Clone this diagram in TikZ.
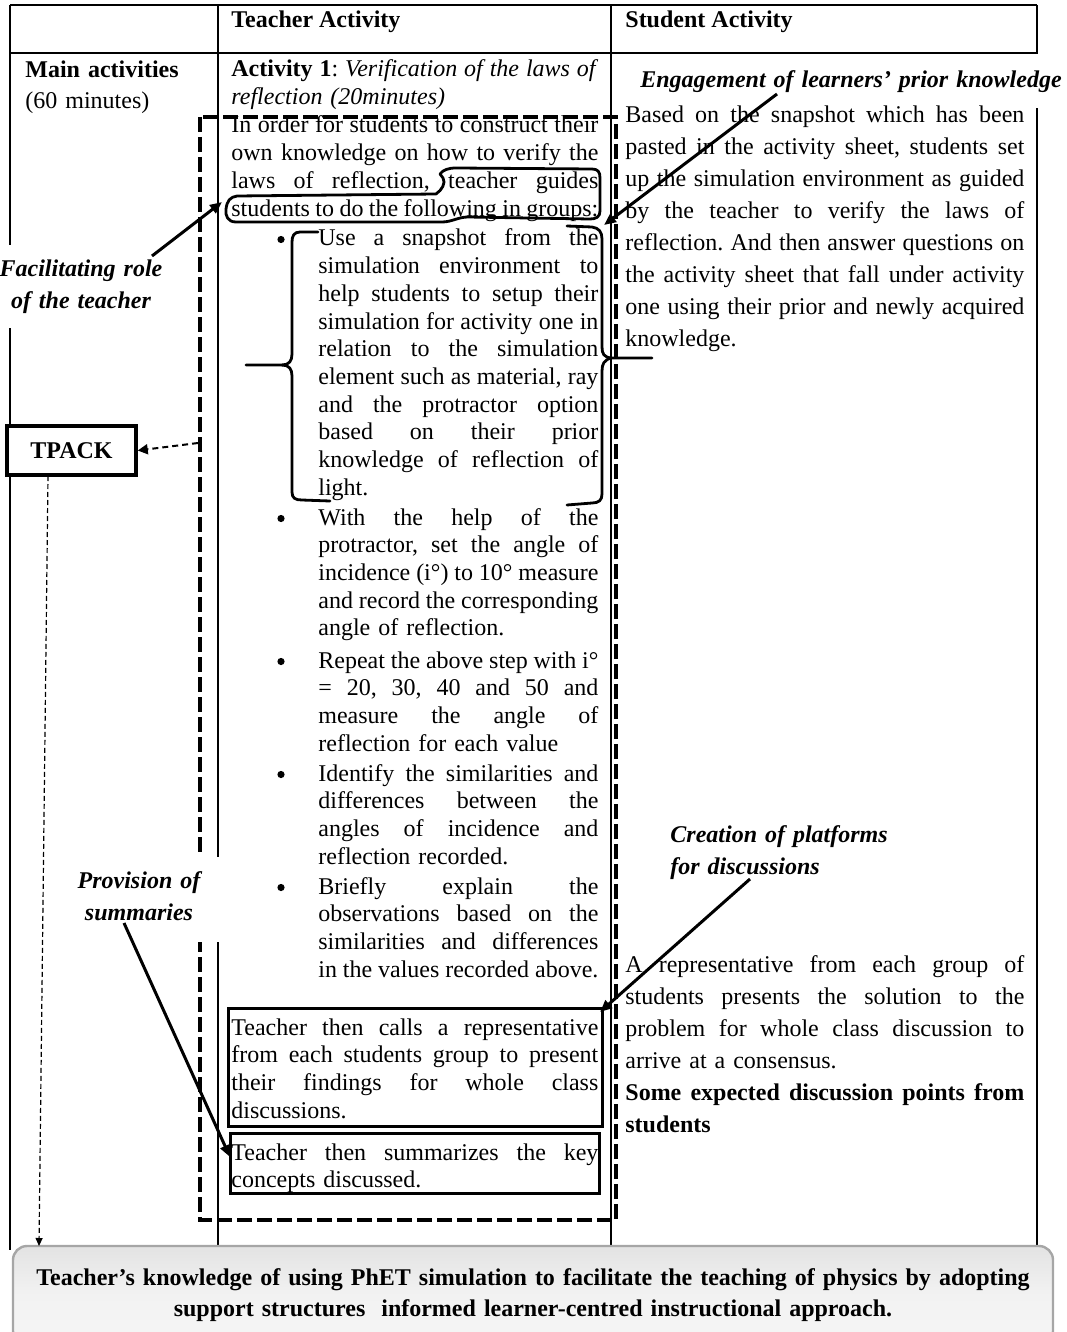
\documentclass[tikz,border=0pt]{standalone}
\usepackage{fontspec}
\setmainfont{Liberation Serif}
\usetikzlibrary{arrows.meta}
\setlength{\parindent}{0pt}
\frenchspacing
\newcommand{\jl}[1]{\makebox[183.5pt][s]{\spaceskip=0pt\relax\xspaceskip=0pt\relax #1}}
\newcommand{\jb}[1]{\makebox[140pt][s]{\spaceskip=0pt\relax\xspaceskip=0pt\relax #1}}
\newcommand{\js}[1]{\makebox[199.5pt][s]{\spaceskip=0pt\relax\xspaceskip=0pt\relax #1}}
\begin{document}
\begin{tikzpicture}[x=0.5pt,y=-0.5pt,
  tline/.style={line width=0.6pt},
  txt/.style={inner sep=0pt, anchor=base west, align=left, font=\fontsize{12}{13.85}\selectfont},
  stxt/.style={inner sep=0pt, anchor=base west, align=left, text width=199.5pt, font=\fontsize{12}{16}\selectfont},
  bul/.style={circle, fill, inner sep=0pt, minimum size=3.6pt},
  lab/.style={inner sep=0pt, anchor=base, align=center, font=\fontsize{12}{16}\selectfont\bfseries\itshape},
  dashbox/.style={line width=2pt, dash pattern=on 7.5pt off 2.5pt},
  hand/.style={line width=1.4pt, line cap=round, line join=round},
  arr/.style={line width=1.5pt, -{Triangle[length=6pt,width=5pt]}},
  darr/.style={line width=1pt, dash pattern=on 3pt off 2pt, -{Triangle[length=5pt,width=5pt]}},
  vdarr/.style={line width=0.6pt, dash pattern=on 2.5pt off 1.5pt, -{Triangle[length=4pt,width=3.5pt]}},
  tbox/.style={draw, line width=1.5pt, inner sep=0pt},
]
\useasboundingbox (0,0) rectangle (1066,1332);

% table rules
\draw[tline] (10,5) -- (1037,5);
\draw[tline] (10,53) -- (1037,53);
\draw[tline] (10,5) -- (10,1250);
\draw[tline] (218,5) -- (218,1250);
\draw[tline] (611,5) -- (611,1250);
\draw[tline] (1037,5) -- (1037,1250);

% dashed region of the teacher activity
\draw[dashbox] (200,117) rectangle (616,1220);

% white grounds behind the annotation labels
\fill[white] (0,245) rectangle (165,328);
\fill[white] (74,857) rectangle (222,942);
\fill[white] (638,54) rectangle (1064,108);

% headers
\node[txt, font=\fontsize{12}{14}\selectfont\bfseries] (hT) at (231,28) {Teacher Activity};
\node[txt, font=\fontsize{12}{14}\selectfont\bfseries] (hS) at (625,28) {Student Activity};

% left cell
\node[txt, text width=90pt, font=\fontsize{12}{15.5}\selectfont] (mainact) at (25,78) {\textbf{Main activities}\\(60 minutes)};

% teacher column
\node[txt, text width=183.5pt] (act) at (231,77) {\jl{\textbf{Activity 1}: \textit{Verification of the laws of}}\\\textit{reflection (20minutes)}};
\node[txt, text width=183.5pt] (intro) at (231,133) {\jl{In order for students to construct their}\\\jl{own knowledge on how to verify the}\\\jl{laws of reflection, teacher guides}\\\jl{students to do the following in groups:}};

\node[bul] (bu1) at (281,239.5) {};
\node[txt, text width=140pt] (it1) at (318,246) {\jb{Use a snapshot from the}\\\jb{simulation environment to}\\\jb{help students to setup their}\\\jb{simulation for activity one in}\\\jb{relation to the simulation}\\\jb{element such as material, ray}\\\jb{and the protractor option}\\\jb{based on their prior}\\\jb{knowledge of reflection of}\\light.};

\node[bul] (bu2) at (281,518.5) {};
\node[txt, text width=140pt] (it2) at (318,525) {\jb{With the help of the}\\\jb{protractor, set the angle of}\\\jb{incidence (i°) to 10° measure}\\\jb{and record the corresponding}\\angle of reflection.};

\node[bul] (bu3) at (281,661.5) {};
\node[txt, text width=140pt] (it3) at (318,668) {\jb{Repeat the above step with i°}\\\jb{= 20, 30, 40 and 50 and}\\\jb{measure the angle of}\\reflection for each value};

\node[bul] (bu4) at (281,774.5) {};
\node[txt, text width=140pt] (it4) at (318,781) {\jb{Identify the similarities and}\\\jb{differences between the}\\\jb{angles of incidence and}\\reflection recorded.};

\node[bul] (bu5) at (281,887.5) {};
\node[txt, text width=140pt] (it5) at (318,894) {\jb{Briefly explain the}\\\jb{observations based on the}\\\jb{similarities and differences}\\\jb{in the values recorded above.}};

\node[tbox, minimum width=187pt, minimum height=59pt] (box1) at (415,1067) {};
\node[txt, text width=183.5pt] (box1t) at (231,1035) {\jl{Teacher then calls a representative}\\\jl{from each students group to present}\\\jl{their findings for whole class}\\discussions.};
\node[tbox, minimum width=184.5pt, minimum height=30pt] (box2) at (414.5,1163) {};
\node[txt, text width=183.5pt] (box2t) at (231,1160) {\jl{Teacher then summarizes the key}\\concepts discussed.};

% student column
\node[stxt] (stu1) at (625,123) {\js{Based on the snapshot which has been}\\\js{pasted in the activity sheet, students set}\\\js{up the simulation environment as guided}\\\js{by the teacher to verify the laws of}\\\js{reflection. And then answer questions on}\\\js{the activity sheet that fall under activity}\\\js{one using their prior and newly acquired}\\knowledge.};
\node[stxt] (stu2) at (625,972) {\js{A representative from each group of}\\\js{students presents the solution to the}\\\js{problem for whole class discussion to}\\arrive at a consensus.\\\js{\textbf{Some expected discussion points from}}\\\textbf{students}};

% annotation labels
\node[lab, text width=100pt] (fac) at (81,277) {Facilitating role\\of the teacher};
\node[lab, text width=230pt] (eng) at (851,88) {Engagement of learners’ prior knowledge};
\node[lab, text width=130pt, align=left, anchor=base west] (cre) at (670,842) {Creation of platforms\\for discussions};
\node[lab, text width=80pt] (prov) at (139,888) {Provision of\\summaries};

\node[draw, line width=1.75pt, fill=white, minimum width=64.5pt, minimum height=24.5pt, inner sep=0pt, font=\fontsize{12}{14}\selectfont\bfseries] (tpack) at (71.5,450.5) {TPACK};

% freehand loop around the guiding sentence
\draw[hand] (436,194) .. controls (442,190) and (446,183) .. (443,178) -- (440,174)
  .. controls (443,170) and (448,168) .. (456,168) -- (592,169)
  .. controls (598,169) and (600,172) .. (600,178) -- (600,211)
  .. controls (600,217) and (596,219) .. (590,219) -- (468,217)
  .. controls (458,217) and (452,222) .. (442,222) -- (236,222)
  .. controls (228,222) and (225,216) .. (226,209)
  .. controls (227,201) and (230,197) .. (237,196) -- cycle;

% left brace of the first bullet
\draw[hand] (318,232) -- (300,232) .. controls (294,232) and (292,236) .. (292,242) -- (292,354)
  .. controls (292,361) and (289,365) .. (282,365) -- (246,365);
\draw[hand] (282,365) .. controls (289,365) and (292,369) .. (292,376) -- (292,492)
  .. controls (292,498) and (295,500) .. (302,500) -- (330,501);

% right brace of the first bullet
\draw[hand] (567,226) -- (592,227) .. controls (599,228) and (602,232) .. (602,239) -- (602,347)
  .. controls (602,354) and (604,357) .. (611,358) -- (652,358);
\draw[hand] (611,358) .. controls (604,360) and (602,364) .. (602,371) -- (602,494)
  .. controls (602,500) and (599,503) .. (592,503) -- (567,505);

% conclusion box
\node[draw=gray!70, line width=1.2pt, top color=gray!22, bottom color=gray!8, middle color=gray!10, rounded corners=7pt, minimum width=520pt, minimum height=49.5pt, text width=510pt, align=center, inner sep=0pt, font=\fontsize{12}{15.5}\selectfont\bfseries] (concl) at (533,1295.5) {Teacher’s knowledge of using PhET simulation to facilitate the teaching of physics by adopting\\support structures\ \ informed learner-centred instructional approach.};

% connectors
\coordinate (facS) at (152,256); \coordinate (facT) at (222,202);
\coordinate (engS) at (777,94);  \coordinate (engT) at (604,225);
\coordinate (creS) at (750,879); \coordinate (creT) at (600,1012);
\coordinate (provS) at (124,923); \coordinate (provT) at (230,1157);
\coordinate (tpS) at (198,443);
\coordinate (tpB) at (48,476); \coordinate (conclT) at (39,1246);
\draw[arr] (facS) -- (facT);
\draw[arr] (engS) -- (engT);
\draw[arr] (creS) -- (creT);
\draw[arr] (provS) -- (provT);
\draw[darr] (tpS) -- (tpack.east);
\draw[vdarr] (tpB) -- (conclT);
\end{tikzpicture}
\end{document}
